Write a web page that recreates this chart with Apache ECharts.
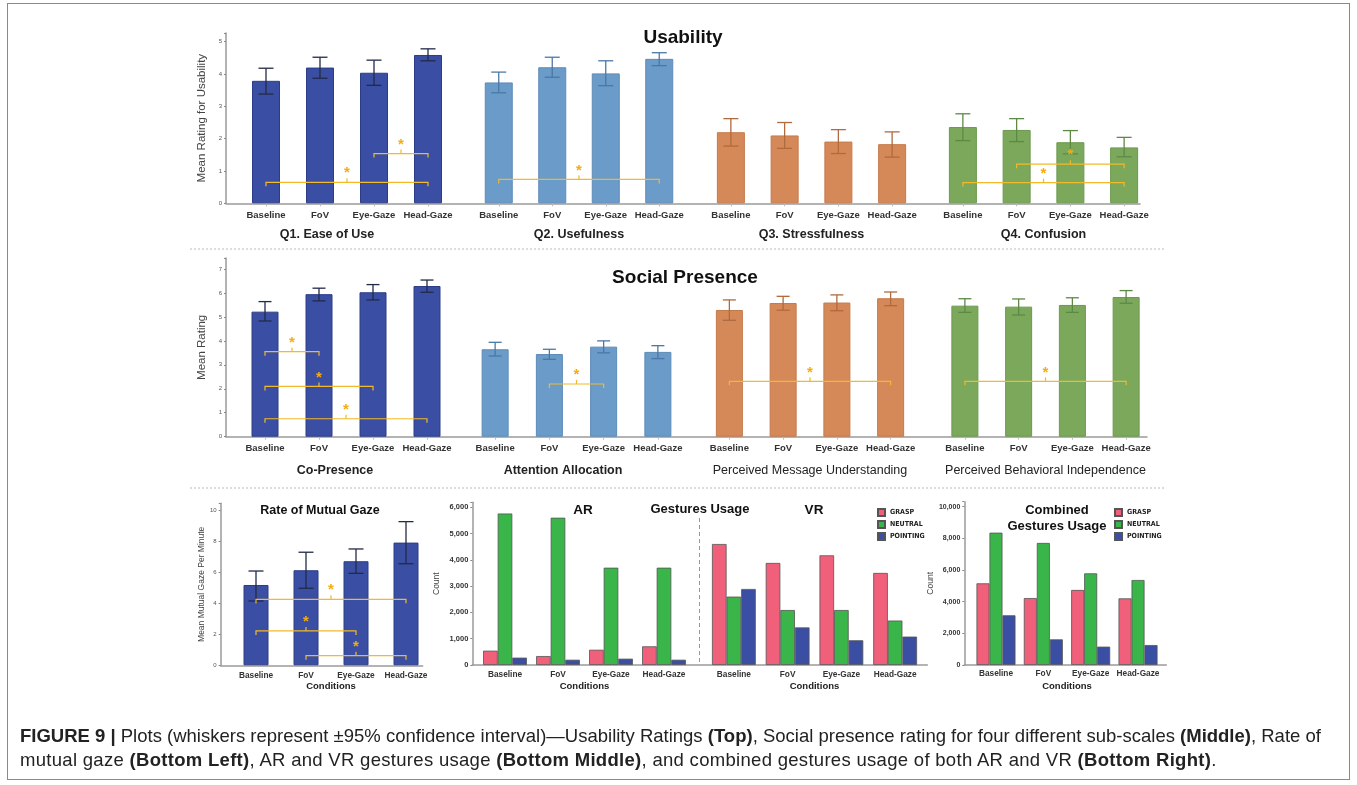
<!DOCTYPE html>
<html>
<head>
<meta charset="utf-8">
<script src="https://cdn.jsdelivr.net/npm/echarts@6/dist/echarts.min.js"></script>
<style>
  html, body { margin:0; padding:0; background:#fff; }
  #wrap { position:relative; width:1357px; height:785px; overflow:hidden; background:#fff; }
  #frame { position:absolute; left:7px; top:3px; width:1343px; height:777px; border:1.5px solid #8a8a8a; box-sizing:border-box; }
  #chart { position:absolute; left:0; top:0; width:1357px; height:785px; }
  #cap { position:absolute; left:20px; top:724px; font-family:'Liberation Sans', Arial, sans-serif; font-size:18.5px; line-height:23.5px; color:#222; white-space:nowrap; }
  #cap .l2 { letter-spacing:0.3px; }
</style>
</head>
<body>
<div id="wrap">
  <div id="frame"></div>
  <div id="chart"></div>
  <div id="cap"><b>FIGURE 9 |</b> Plots (whiskers represent ±95% confidence interval)—Usability Ratings <b>(Top)</b>, Social presence rating for four different sub-scales <b>(Middle)</b>, Rate of<br><span class="l2">mutual gaze <b>(Bottom Left)</b>, AR and VR gestures usage <b>(Bottom Middle)</b>, and combined gestures usage of both AR and VR <b>(Bottom Right)</b>.</span></div>
</div>
<script>
// ---------------- DATA ----------------
const conditions = ['Baseline', 'FoV', 'Eye-Gaze', 'Head-Gaze'];

// Usability (top)
const usabilityTicks = [0, 1, 2, 3, 4, 5];
const q1Mean = [3.79, 4.20, 4.04, 4.59];
const q1Low  = [3.38, 3.87, 3.65, 4.41];
const q1High = [4.18, 4.52, 4.43, 4.78];
const q1Sig  = [[0, 3, 0.65], [2, 3, 1.54]];

const q2Mean = [3.74, 4.21, 4.02, 4.47];
const q2Low  = [3.42, 3.90, 3.64, 4.26];
const q2High = [4.06, 4.52, 4.41, 4.66];
const q2Sig  = [[0, 3, 0.74]];

const q3Mean = [2.20, 2.10, 1.91, 1.83];
const q3Low  = [1.77, 1.70, 1.54, 1.43];
const q3High = [2.62, 2.50, 2.28, 2.21];
const q3Sig  = [];

const q4Mean = [2.36, 2.27, 1.89, 1.73];
const q4Low  = [1.94, 1.91, 1.53, 1.44];
const q4High = [2.77, 2.62, 2.25, 2.04];
const q4Sig  = [[1, 3, 1.21], [0, 3, 0.64]];

// Social presence (middle)
const socialTicks = [0, 1, 2, 3, 4, 5, 6, 7];
const cpMean = [5.22, 5.95, 6.03, 6.29];
const cpLow  = [4.83, 5.67, 5.71, 6.03];
const cpHigh = [5.64, 6.20, 6.35, 6.54];
const cpSig  = [[0, 1, 3.55], [0, 2, 2.10], [0, 3, 0.75]];

const aaMean = [3.65, 3.45, 3.76, 3.54];
const aaLow  = [3.37, 3.23, 3.50, 3.26];
const aaHigh = [3.94, 3.65, 4.00, 3.80];
const aaSig  = [[1, 2, 2.20]];

const pmuMean = [5.29, 5.58, 5.60, 5.78];
const pmuLow  = [4.86, 5.28, 5.26, 5.47];
const pmuHigh = [5.71, 5.86, 5.92, 6.04];
const pmuSig  = [[0, 3, 2.31]];

const pbiMean = [5.47, 5.43, 5.50, 5.83];
const pbiLow  = [5.19, 5.08, 5.19, 5.57];
const pbiHigh = [5.76, 5.75, 5.80, 6.10];
const pbiSig  = [[0, 3, 2.31]];

// Rate of mutual gaze (bottom left)
const gazeTicks = [0, 2, 4, 6, 8, 10];
const gazeMean = [5.17, 6.12, 6.70, 7.90];
const gazeLow  = [4.14, 4.96, 5.92, 6.54];
const gazeHigh = [6.07, 7.28, 7.49, 9.25];
const gazeSig  = [[0, 3, 4.25], [0, 2, 2.21], [1, 3, 0.62]];

// Gestures usage (bottom middle / right)
const gestureNames = ['GRASP', 'NEUTRAL', 'POINTING'];
const arGrasp    = [545, 340, 580, 710];
const arNeutral  = [5760, 5600, 3700, 3700];
const arPointing = [280, 200, 240, 200];
const vrGrasp    = [4600, 3880, 4170, 3500];
const vrNeutral  = [2600, 2090, 2090, 1690];
const vrPointing = [2890, 1430, 940, 1080];
const combGrasp    = [5160, 4230, 4740, 4210];
const combNeutral  = [8360, 7710, 5790, 5370];
const combPointing = [3140, 1620, 1160, 1260];

// ---------------- STYLE ----------------
const FONT = "'Liberation Sans', Arial, sans-serif";
const GOLD = '#f2b92a';
const STAR = '#f5ac10';
const colDark  = '#3a4fa3', errDark  = '#232a48';
const colLight = '#6b9bc8', errLight = '#4b78a6';
const colOrange= '#d58958', errOrange= '#b06a3e';
const colGreen = '#7ca85c', errGreen = '#5c8a45';
const gestColors = ['#f0607a', '#39b54a', '#3a4fa3'];

const option = {
  animation: false,
  textStyle: { fontFamily: FONT },
  grid: [], xAxis: [], yAxis: [], series: [], title: [], legend: [], graphic: []
};

function addFrame(o) {
  const gi = option.grid.length;
  option.grid.push({ left: o.left, top: o.top, width: o.width, height: o.height });
  option.xAxis.push({
    gridIndex: gi, type: 'value', min: 0, max: 1,
    axisLine: { show: true, lineStyle: { color: '#9a9a9a', width: 1.5 } },
    axisTick: { show: false }, axisLabel: { show: false }, splitLine: { show: false }
  });
  option.yAxis.push({
    gridIndex: gi, type: 'value', min: 0, max: o.max, interval: o.interval,
    axisLine: { show: true, lineStyle: { color: '#9a9a9a', width: 1.5 } },
    axisTick: { show: true, length: 2, lineStyle: { color: '#888' } },
    axisLabel: {
      fontSize: o.labelSize, color: o.labelColor || '#555', margin: 4,
      fontWeight: o.labelBold ? 'bold' : 'normal',
      formatter: v => (o.ticks.indexOf(v) >= 0 ? o.fmt(v) : '')
    },
    splitLine: { show: false },
    name: o.name, nameLocation: 'middle', nameRotate: 90, nameGap: o.nameGap,
    nameTextStyle: { fontSize: o.nameSize, color: '#444' }
  });
  option.series.push({ type: 'line', xAxisIndex: gi, yAxisIndex: gi, data: [], silent: true });
}

function addGroup(o) {
  const gi = option.grid.length;
  option.grid.push({ left: o.left, top: o.top, width: o.width, height: o.height });
  option.xAxis.push({
    gridIndex: gi, type: 'category', data: conditions,
    axisLine: { show: false },
    axisTick: { show: o.ticks !== false, alignWithLabel: true, length: 3, lineStyle: { color: '#bbb' } },
    axisLabel: { interval: 0, fontSize: o.labelSize, fontWeight: 'bold', color: '#333', margin: o.labelMargin },
    name: o.name || '', nameLocation: 'middle', nameGap: o.nameGap,
    nameTextStyle: {
      fontSize: o.nameSize, fontWeight: o.nameBold === false ? 'normal' : 'bold', color: '#222',
      padding: [0, o.namePadRight || 0, 0, 0]
    }
  });
  option.yAxis.push({ gridIndex: gi, type: 'value', min: 0, max: o.max, show: false });
  return gi;
}

function errRender(color, cap) {
  return function (params, api) {
    const x = api.value(0);
    const lo = api.coord([x, api.value(1)]);
    const hi = api.coord([x, api.value(2)]);
    const h = cap / 2;
    const st = { stroke: color, lineWidth: 1.3 };
    return { type: 'group', children: [
      { type: 'line', shape: { x1: lo[0], y1: lo[1], x2: hi[0], y2: hi[1] }, style: st },
      { type: 'line', shape: { x1: lo[0] - h, y1: lo[1], x2: lo[0] + h, y2: lo[1] }, style: st },
      { type: 'line', shape: { x1: hi[0] - h, y1: hi[1], x2: hi[0] + h, y2: hi[1] }, style: st }
    ] };
  };
}

function sigRender(params, api) {
  const a = api.coord([api.value(0), api.value(2)]);
  const b = api.coord([api.value(1), api.value(2)]);
  const mid = (a[0] + b[0]) / 2;
  const y = a[1];
  const st = { stroke: GOLD, lineWidth: 1.2, fill: null };
  return { type: 'group', children: [
    { type: 'polyline', shape: { points: [[a[0], y + 4], [a[0], y], [b[0], y], [b[0], y + 4]] }, style: st },
    { type: 'line', shape: { x1: mid, y1: y, x2: mid, y2: y - 4 }, style: st },
    { type: 'text', x: mid, y: y - 9, style: { text: '*', align: 'center', verticalAlign: 'middle', fill: STAR, fontSize: 15, fontWeight: 'bold', fontFamily: FONT } }
  ] };
}

function addBarsWithErr(gi, mean, low, high, color, edge, errColor, barWidth, cap, sig) {
  option.series.push({
    type: 'bar', xAxisIndex: gi, yAxisIndex: gi, data: mean, barWidth: barWidth, silent: true,
    itemStyle: { color: color, borderColor: edge, borderWidth: 1 }, z: 2
  });
  option.series.push({
    type: 'custom', xAxisIndex: gi, yAxisIndex: gi, silent: true, z: 3,
    renderItem: errRender(errColor, cap), encode: { x: 0, y: [1, 2] },
    data: mean.map((m, i) => [i, low[i], high[i]])
  });
  if (sig.length) {
    option.series.push({
      type: 'custom', xAxisIndex: gi, yAxisIndex: gi, silent: true, z: 4,
      renderItem: sigRender, encode: { x: [0, 1], y: 2 },
      data: sig
    });
  }
}

function addGestures(gi, grasp, neutral, pointing, barWidth) {
  [grasp, neutral, pointing].forEach((arr, k) => {
    option.series.push({
      type: 'bar', name: gestureNames[k], xAxisIndex: gi, yAxisIndex: gi, data: arr,
      barWidth: barWidth, barGap: '0%', silent: true,
      itemStyle: { color: gestColors[k], borderColor: '#555', borderWidth: 0.8 }
    });
  });
}

// ---------------- TOP: USABILITY ----------------
const topMax = 5.27;
addFrame({ left: 226, top: 33, width: 914, height: 170.3, max: topMax, interval: 1, ticks: usabilityTicks,
  fmt: v => String(v), labelSize: 6, name: 'Mean Rating for Usability', nameGap: 14, nameSize: 11.5 });
const topGroups = [
  { left: 239, width: 216, name: 'Q1. Ease of Use', pad: 40, d: [q1Mean, q1Low, q1High, q1Sig], c: [colDark, '#2c3d88', errDark] },
  { left: 472, width: 214, name: 'Q2. Usefulness', pad: 0, d: [q2Mean, q2Low, q2High, q2Sig], c: [colLight, '#5d8bb8', errLight] },
  { left: 704, width: 215, name: 'Q3. Stressfulness', pad: 0, d: [q3Mean, q3Low, q3High, q3Sig], c: [colOrange, '#c47a4b', errOrange] },
  { left: 936, width: 215, name: 'Q4. Confusion', pad: 0, d: [q4Mean, q4Low, q4High, q4Sig], c: [colGreen, '#6b9a4e', errGreen] }
];
topGroups.forEach(g => {
  const gi = addGroup({ left: g.left, top: 33, width: g.width, height: 170.3, max: topMax,
    labelSize: 9.5, labelMargin: 7, name: g.name, nameGap: 25, nameSize: 12.5, namePadRight: g.pad });
  addBarsWithErr(gi, g.d[0], g.d[1], g.d[2], g.c[0], g.c[1], g.c[2], 28, 15, g.d[3]);
});

// ---------------- MIDDLE: SOCIAL PRESENCE ----------------
const midMax = 7.46;
addFrame({ left: 226, top: 258, width: 921, height: 178.7, max: midMax, interval: 1, ticks: socialTicks,
  fmt: v => String(v), labelSize: 6, name: 'Mean Rating', nameGap: 14, nameSize: 11.5 });
const midGroups = [
  { left: 238, width: 216, name: 'Co-Presence', pad: 22, bold: true, d: [cpMean, cpLow, cpHigh, cpSig], c: [colDark, '#2c3d88', errDark] },
  { left: 468, width: 217, name: 'Attention Allocation', pad: 27, bold: true, d: [aaMean, aaLow, aaHigh, aaSig], c: [colLight, '#5d8bb8', errLight] },
  { left: 702.5, width: 215, name: 'Perceived Message Understanding', pad: 0, bold: false, d: [pmuMean, pmuLow, pmuHigh, pmuSig], c: [colOrange, '#c47a4b', errOrange] },
  { left: 938, width: 215, name: 'Perceived Behavioral Independence', pad: 0, bold: false, d: [pbiMean, pbiLow, pbiHigh, pbiSig], c: [colGreen, '#6b9a4e', errGreen] }
];
midGroups.forEach(g => {
  const gi = addGroup({ left: g.left, top: 258, width: g.width, height: 178.7, max: midMax,
    labelSize: 9.5, labelMargin: 7, name: g.name, nameGap: 27, nameSize: 12.5, nameBold: g.bold, namePadRight: g.pad });
  addBarsWithErr(gi, g.d[0], g.d[1], g.d[2], g.c[0], g.c[1], g.c[2], 27, 13, g.d[3]);
});

// ---------------- BOTTOM LEFT: MUTUAL GAZE ----------------
const gazeMax = 10.43;
addFrame({ left: 220.7, top: 503.3, width: 202, height: 162, max: gazeMax, interval: 2, ticks: gazeTicks,
  fmt: v => String(v), labelSize: 6, name: 'Mean Mutual Gaze Per Minute', nameGap: 15, nameSize: 8.5 });
{
  const gi = addGroup({ left: 231, top: 503.3, width: 200, height: 162, max: gazeMax,
    labelSize: 8.3, labelMargin: 6, name: 'Conditions', nameGap: 16.5, nameSize: 9.5, ticks: false });
  addBarsWithErr(gi, gazeMean, gazeLow, gazeHigh, colDark, '#2c3d88', errDark, 25, 15, gazeSig);
}

// ---------------- BOTTOM MIDDLE: AR / VR GESTURES ----------------
const gestMax = 6186;
const gestTicks = [0, 1000, 2000, 3000, 4000, 5000, 6000];
addFrame({ left: 472.3, top: 502.3, width: 455, height: 162.7, max: gestMax, interval: 1000, ticks: gestTicks,
  fmt: v => v.toLocaleString('en-US'), labelSize: 7.5, labelBold: true, labelColor: '#333', name: 'Count', nameGap: 31, nameSize: 8.5 });
{
  const giAR = addGroup({ left: 478.5, top: 502.3, width: 212, height: 162.7, max: gestMax,
    labelSize: 8.3, labelMargin: 6, name: 'Conditions', nameGap: 16.5, nameSize: 9.5, ticks: false });
  addGestures(giAR, arGrasp, arNeutral, arPointing, 14.6);
  const giVR = addGroup({ left: 707, top: 502.3, width: 215, height: 162.7, max: gestMax,
    labelSize: 8.3, labelMargin: 6, name: 'Conditions', nameGap: 16.5, nameSize: 9.5, ticks: false });
  addGestures(giVR, vrGrasp, vrNeutral, vrPointing, 14.6);
}

// ---------------- BOTTOM RIGHT: COMBINED ----------------
const combMax = 10316;
const combTicks = [0, 2000, 4000, 6000, 8000, 10000];
addFrame({ left: 964.3, top: 501.7, width: 202, height: 163.3, max: combMax, interval: 2000, ticks: combTicks,
  fmt: v => v.toLocaleString('en-US'), labelSize: 7, labelBold: true, labelColor: '#333', name: 'Count', nameGap: 27, nameSize: 8.5 });
{
  const gi = addGroup({ left: 972.3, top: 501.7, width: 189.4, height: 163.3, max: combMax,
    labelSize: 8.3, labelMargin: 5, name: 'Conditions', nameGap: 16.5, nameSize: 9.5, ticks: false });
  addGestures(gi, combGrasp, combNeutral, combPointing, 13);
}

// ---------------- TITLES ----------------
const tStyle = (size) => ({ fontSize: size, fontWeight: 'bold', color: '#111', fontFamily: FONT });
option.title = [
  { text: 'Usability', left: 683, top: 28, textAlign: 'center', textStyle: tStyle(19), padding: 0 },
  { text: 'Social Presence', left: 685, top: 268, textAlign: 'center', textStyle: tStyle(19), padding: 0 },
  { text: 'Rate of Mutual Gaze', left: 320, top: 504, textAlign: 'center', textStyle: tStyle(12.5), padding: 0 },
  { text: 'AR', left: 583, top: 503, textAlign: 'center', textStyle: tStyle(13.5), padding: 0 },
  { text: 'Gestures Usage', left: 700, top: 503, textAlign: 'center', textStyle: tStyle(13), padding: 0 },
  { text: 'VR', left: 814, top: 503, textAlign: 'center', textStyle: tStyle(13.5), padding: 0 },
  { text: 'Combined\nGestures Usage', left: 1057, top: 502, textAlign: 'center',
    textStyle: Object.assign(tStyle(13), { lineHeight: 16 }), padding: 0 }
];

// ---------------- LEGENDS ----------------
const legTxt = { fontSize: 7, fontWeight: 'bold', color: '#222',
  fontFamily: "'Liberation Sans Narrow', 'DejaVu Sans Condensed', 'Liberation Sans', sans-serif" };
option.legend = [
  { data: gestureNames, orient: 'vertical', left: 877, top: 508, itemWidth: 7, itemHeight: 7, itemGap: 3,
    icon: 'rect', textStyle: legTxt, padding: 0, selectedMode: false },
  { data: gestureNames, orient: 'vertical', left: 1114, top: 508, itemWidth: 7, itemHeight: 7, itemGap: 3,
    icon: 'rect', textStyle: legTxt, padding: 0, selectedMode: false }
];

// ---------------- SEPARATORS ----------------
option.graphic = [
  { type: 'line', shape: { x1: 190, y1: 249, x2: 1165, y2: 249 }, style: { stroke: '#bbb', lineWidth: 1, lineDash: [2, 2] }, silent: true },
  { type: 'line', shape: { x1: 190, y1: 488, x2: 1165, y2: 488 }, style: { stroke: '#bbb', lineWidth: 1, lineDash: [2, 2] }, silent: true },
  { type: 'line', shape: { x1: 699.5, y1: 518, x2: 699.5, y2: 664 }, style: { stroke: '#999', lineWidth: 1, lineDash: [4, 3] }, silent: true }
];

const chart = echarts.init(document.getElementById('chart'), null, { renderer: 'canvas' });
chart.setOption(option);
</script>
</body>
</html>
